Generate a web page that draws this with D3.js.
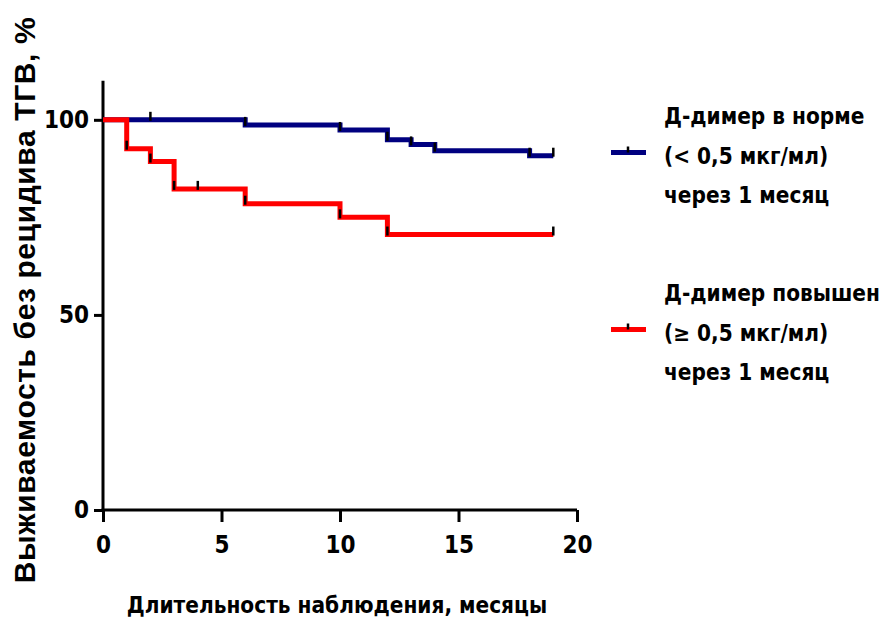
<!DOCTYPE html>
<html>
<head>
<meta charset="utf-8">
<script src="https://cdn.jsdelivr.net/npm/d3@7"></script>
<style>
  body { margin: 0; background: #fff; }
  .lbl { font-family: "Liberation Sans Narrow", "DejaVu Sans Condensed", "Roboto", sans-serif; font-weight: bold; }
</style>
</head>
<body>
<svg id="chart" width="885" height="620"></svg>
<script>
// step curves (time in months, survival %)
const normTimes = [0, 6, 10, 12, 13, 14, 18, 19];
const normValues = [100, 98.7, 97.4, 94.9, 93.7, 92.1, 90.8, 90.8];
const normCensor = [2, 6, 10, 12, 13, 14, 18, 19];

const highTimes = [0, 1, 2, 3, 6, 10, 12, 19];
const highValues = [100, 92.6, 89.3, 82.3, 78.5, 75.0, 70.6, 70.6];
const highCensor = [1, 2, 3, 4, 6, 10, 12, 19];

const xTicks = [0, 5, 10, 15, 20];
const yTicks = [0, 50, 100];

const legendNorm = ["Д-димер в норме", "(< 0,5 мкг/мл)", "через 1 месяц"];
const legendHigh = ["Д-димер повышен", "(≥ 0,5 мкг/мл)", "через 1 месяц"];

const svg = d3.select("#chart");

const x = d3.scaleLinear().domain([0, 20]).range([103, 577]);
const y = d3.scaleLinear().domain([0, 110]).range([510, 80.8]);

// axes
const yAxis = svg.append("g")
  .attr("transform", "translate(103,0)")
  .call(d3.axisLeft(y).tickValues(yTicks).tickSize(9).tickSizeOuter(0).tickPadding(5));
const xAxis = svg.append("g")
  .attr("transform", "translate(0,510)")
  .call(d3.axisBottom(x).tickValues(xTicks).tickSize(12).tickSizeOuter(0).tickPadding(14));

[yAxis, xAxis].forEach(a => {
  a.select(".domain").attr("stroke", "#000").attr("stroke-width", 3);
  a.selectAll(".tick line").attr("stroke", "#000").attr("stroke-width", 3);
  a.selectAll(".tick text").attr("class", "lbl").attr("font-size", 24).attr("fill", "#000");
});
xAxis.select(".domain").attr("d", "M101.5,0H577");
yAxis.select(".domain").attr("d", "M0,80.8V511.5");

// curves
function stepAt(times, values, t) {
  let v = values[0];
  for (let i = 0; i < times.length; i++) if (times[i] <= t) v = values[i];
  return v;
}

const line = d3.line()
  .x(d => x(d[0]))
  .y(d => y(d[1]))
  .curve(d3.curveStepAfter);

const series = [
  { times: normTimes, values: normValues, censor: normCensor, color: "#000080" },
  { times: highTimes, values: highValues, censor: highCensor, color: "#ff0000" }
];

series.forEach(s => {
  svg.append("path")
    .datum(d3.zip(s.times, s.values))
    .attr("d", line)
    .attr("fill", "none")
    .attr("stroke", s.color)
    .attr("stroke-width", 5);
});

series.forEach(s => {
  svg.append("g").selectAll("line")
    .data(s.censor)
    .join("line")
    .attr("x1", d => x(d)).attr("x2", d => x(d))
    .attr("y1", d => y(stepAt(s.times, s.values, d)) + 1)
    .attr("y2", d => y(stepAt(s.times, s.values, d)) - 8)
    .attr("stroke", "#000")
    .attr("stroke-width", 2.5);
});

// legend
const legends = [
  { text: legendNorm, color: "#000080", top: 124 },
  { text: legendHigh, color: "#ff0000", top: 301 }
];
legends.forEach(l => {
  const g = svg.append("g");
  const ly = l.top + 28.5;
  g.append("line").attr("x1", 611).attr("x2", 646).attr("y1", ly).attr("y2", ly)
    .attr("stroke", l.color).attr("stroke-width", 5);
  g.append("line").attr("x1", 628).attr("x2", 628).attr("y1", ly).attr("y2", ly - 6)
    .attr("stroke", "#000").attr("stroke-width", 2.5);
  g.selectAll("text").data(l.text).join("text")
    .attr("class", "lbl")
    .attr("x", 664)
    .attr("y", (d, i) => l.top + i * 39.5)
    .attr("font-size", 22.4)
    .text(d => d);
});

// axis titles
svg.append("text")
  .attr("class", "lbl")
  .attr("x", 337).attr("y", 613)
  .attr("text-anchor", "middle")
  .attr("font-size", 22.4)
  .text("Длительность наблюдения, месяцы");

svg.append("text")
  .attr("transform", "translate(35,300) rotate(-90)")
  .attr("text-anchor", "middle")
  .attr("font-family", "Liberation Sans, Arial, sans-serif")
  .attr("font-weight", "bold")
  .attr("font-size", 30)
  .attr("letter-spacing", 0.6)
  .text("Выживаемость без рецидива ТГВ, %");
</script>
</body>
</html>
